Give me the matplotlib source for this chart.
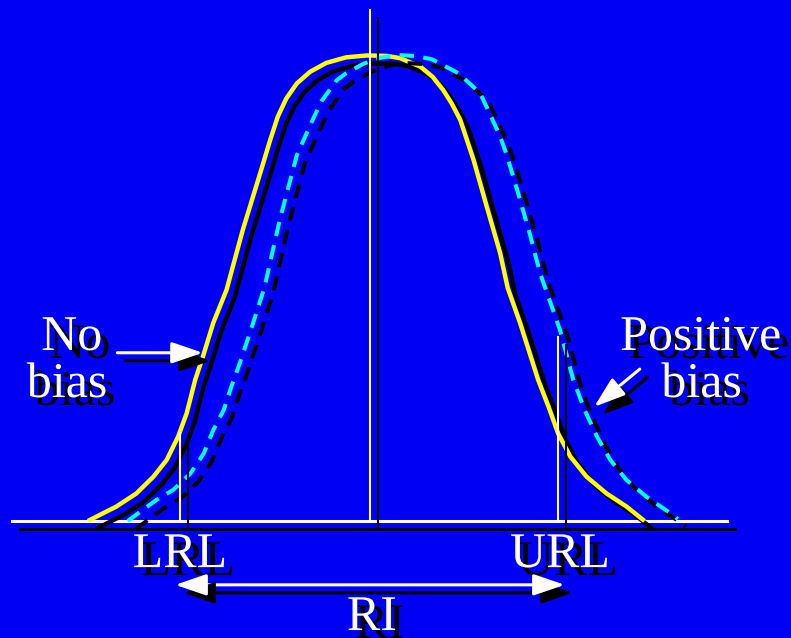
import matplotlib
matplotlib.use('Agg')
import matplotlib.pyplot as plt
import matplotlib.patheffects as pe

# x in SD units from the true mean, y = relative height of the distribution
x_nobias = [-2.97, -2.67, -2.46, -2.28, -2.14, -2.02, -1.93, -1.84, -1.76, -1.65,
            -1.51, -1.34, -1.14, -1.05, -0.97, -0.88, -0.77, -0.63, -0.46, -0.25,
            -0.03, 0.18, 0.32, 0.53, 0.66, 0.77, 0.86, 0.95, 1.02, 1.09,
            1.23, 1.37, 1.45, 1.58, 1.77, 1.88, 1.98, 2.11, 2.28, 2.49, 2.70, 2.89]
y_nobias = [0.0, 0.031, 0.059, 0.095, 0.131, 0.181, 0.231, 0.303, 0.352, 0.425,
            0.496, 0.624, 0.757, 0.818, 0.868, 0.907, 0.939, 0.964, 0.983, 0.995,
            0.999, 0.998, 0.993, 0.975, 0.953, 0.925, 0.896, 0.861, 0.818, 0.775,
            0.674, 0.575, 0.500, 0.425, 0.303, 0.245, 0.188, 0.138, 0.095, 0.059, 0.031, 0.0]

x_posbias = [-2.55, -2.25, -2.07, -1.89, -1.75, -1.65, -1.54, -1.46, -1.37, -1.23,
             -1.11, -0.95, -0.77, -0.61, -0.51, -0.35, -0.25, -0.07, 0.11, 0.29,
             0.47, 0.65, 0.93, 1.16, 1.29, 1.37, 1.44, 1.55, 1.68, 1.79,
             2.00, 2.14, 2.26, 2.39, 2.53, 2.70, 2.91, 3.19, 3.24]
y_posbias = [0.0, 0.045, 0.067, 0.102, 0.145, 0.195, 0.238, 0.288, 0.339, 0.425,
             0.502, 0.646, 0.785, 0.858, 0.901, 0.946, 0.961, 0.981, 0.994, 1.0,
             0.998, 0.991, 0.961, 0.918, 0.861, 0.825, 0.785, 0.710, 0.618, 0.532,
             0.410, 0.303, 0.238, 0.181, 0.131, 0.088, 0.052, 0.013, 0.004]

lrl = -2.0
url = 1.98
lrl_top = 0.189
url_top = 0.395
mean_top = 1.097
base_x = [-3.77, 3.76]

BLUE = '#0000F5'
sh = (5.76, -5.76)  # shadow offset, points
line_fx = [pe.SimpleLineShadow(offset=sh, shadow_color='black', alpha=1.0), pe.Normal()]
text_fx = [pe.SimplePatchShadow(offset=sh, shadow_rgbFace='black', alpha=1.0), pe.Normal()]
arrow_fx = [pe.SimpleLineShadow(offset=sh, shadow_color='black', alpha=1.0),
            pe.SimplePatchShadow(offset=sh, shadow_rgbFace='black', alpha=1.0), pe.Normal()]

fig = plt.figure(figsize=(7.91, 6.38), dpi=100, facecolor=BLUE)
ax = fig.add_axes([0, 0, 1, 1])
ax.set_facecolor(BLUE)
ax.set_xlim(-3.895, 4.432)
ax.set_ylim(-0.2511, 1.118)
ax.axis('off')

# baseline
ax.plot(base_x, [0, 0], color='white', lw=2.2, path_effects=line_fx, zorder=2)

# curves
ax.plot(x_nobias, y_nobias, color='yellow', lw=3.2, solid_joinstyle='round',
        solid_capstyle='butt', path_effects=line_fx, zorder=3)
ax.plot(x_posbias, y_posbias, color='cyan', lw=2.9, dashes=(3.6, 2.3),
        dash_joinstyle='round', path_effects=line_fx, zorder=4)

# vertical lines
ax.plot([0, 0], [0, mean_top], color='white', lw=1.5, path_effects=line_fx, zorder=5)
ax.plot([lrl, lrl], [0, lrl_top], color='white', lw=1.5, path_effects=line_fx, zorder=5)
ax.plot([url, url], [0, url_top], color='white', lw=1.5, path_effects=line_fx, zorder=5)

# labels
font = dict(family='Liberation Serif', size=36, color='white', ha='center',
            va='baseline', path_effects=text_fx, zorder=6)
ax.text(-3.14, 0.367, 'No', **font)
ax.text(-3.19, 0.266, 'bias', **font)
ax.text(3.48, 0.367, 'Positive', **font)
ax.text(3.49, 0.266, 'bias', **font)
ax.text(lrl, -0.099, 'LRL', **font)
ax.text(2.0, -0.099, 'URL', **font)
ax.text(0.02, -0.234, 'RI', **font)

# arrows
aprops = dict(arrowstyle='-|>,head_length=19,head_width=6.5', mutation_scale=1,
              color='white', lw=2.2, shrinkA=0, shrinkB=0, path_effects=arrow_fx)
ax.annotate('', xy=(-1.76, 0.361), xytext=(-2.66, 0.361), arrowprops=aprops, zorder=6)
ax.annotate('', xy=(2.36, 0.245), xytext=(2.84, 0.326), arrowprops=aprops, zorder=6)
dprops = dict(aprops, arrowstyle='<|-|>,head_length=19,head_width=6.5')
ax.annotate('', xy=(2.05, -0.137), xytext=(-2.05, -0.137), arrowprops=dprops, zorder=6)

fig.savefig('out.png', dpi=100, facecolor=BLUE)
